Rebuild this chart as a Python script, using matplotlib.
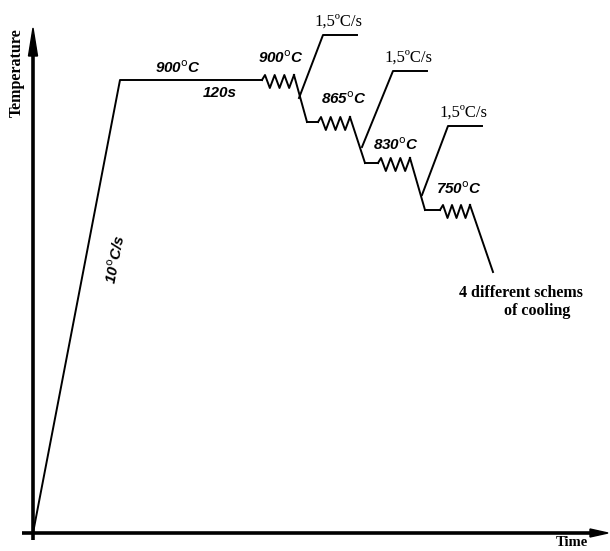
import matplotlib.pyplot as plt
import numpy as np
from matplotlib.patches import Polygon

# schematic coordinates (image units, y grows downward = lower temperature)
ramp_t = [33, 120, 262]
ramp_T = [533, 80, 80]

# holds: start, end, level
hold_start = [262, 318, 378, 440]
hold_end = [294, 350, 410, 470]
hold_T = [80, 122, 163, 210]

# cooling legs after each hold: end point
drop_t = [307, 365, 425, 493]
drop_T = [122, 163, 210, 272]

# 1.5 C/s branches: start on the cooling leg, top corner, end of shelf
branch_t0 = [299, 362, 422]
branch_T0 = [98, 147, 195]
branch_t1 = [323, 393, 448]
branch_T1 = [35, 71, 126]
branch_t2 = [357, 427, 482]

hold_labels = ["900", "865", "830", "750"]
hold_label_xy = [(281, 58), (344, 99), (396, 145), (459, 189)]
branch_label = "1,5ºC/s"

fig = plt.figure(figsize=(6.1, 5.51), dpi=100)
ax = fig.add_axes([0, 0, 1, 1])
ax.set_xlim(0, 610)
ax.set_ylim(551, 0)
ax.axis("off")

lw = 1.4
# axes
ax.plot([33, 33], [540, 50], color="black", lw=2.6, solid_capstyle="butt")
ax.plot([22, 592], [533, 533], color="black", lw=2.6, solid_capstyle="butt")
ax.add_patch(Polygon([[28.5, 56], [37.5, 56], [33, 28]], closed=True, color="black"))
ax.add_patch(Polygon([[590, 529], [590, 537], [608, 533]], closed=True, color="black"))

# heating ramp and first hold
ax.plot(ramp_t, ramp_T, color="black", lw=lw)


def zigzag(x0, x1, y):
    xs = np.linspace(x0 + 3, x1, 7)
    ys = [y - 5 if i % 2 == 0 else y + 8 for i in range(7)]
    return [x0] + list(xs), [y] + ys


prev_t, prev_T = None, None
for i in range(4):
    if prev_t is not None:
        ax.plot([prev_t, hold_start[i]], [prev_T, hold_T[i]], color="black", lw=lw)
    zx, zy = zigzag(hold_start[i], hold_end[i], hold_T[i])
    ax.plot(zx, zy, color="black", lw=lw)
    ax.plot([zx[-1], drop_t[i]], [zy[-1], drop_T[i]], color="black", lw=lw)
    prev_t, prev_T = drop_t[i], drop_T[i]

for i in range(3):
    ax.plot([branch_t0[i], branch_t1[i], branch_t2[i]],
            [branch_T0[i], branch_T1[i], branch_T1[i]], color="black", lw=lw)
    ax.text((branch_t1[i] + branch_t2[i]) / 2 - 2, branch_T1[i] - 5, branch_label,
            family="Liberation Serif", fontsize=12, ha="center", va="bottom")

deg = r"$^\mathsf{o}$"
sans = dict(family="Liberation Sans", style="italic", weight="bold", fontsize=11)
ax.text(178, 68, "900" + deg + "C", ha="center", va="center", **sans)
ax.text(220, 93, "120s", ha="center", va="center", **sans)
for lab, (x, y) in zip(hold_labels, hold_label_xy):
    ax.text(x, y, lab + deg + "C", ha="center", va="center", **sans)
ax.text(116, 259, "10" + deg + "C/s", rotation=79, ha="center", va="center", **sans)

serif = dict(family="Liberation Serif", weight="bold", fontsize=11.5)
ax.text(17, 73, "Temperature", rotation=90, ha="center", va="center", **serif)
ax.text(572, 543, "Time", ha="center", va="center",
        family="Liberation Serif", weight="bold", fontsize=10.5)
ax.text(521, 293, "4 different schems", ha="center", va="center", **serif)
ax.text(537, 311, "of cooling", ha="center", va="center", **serif)

fig.savefig("out.png", dpi=100)
